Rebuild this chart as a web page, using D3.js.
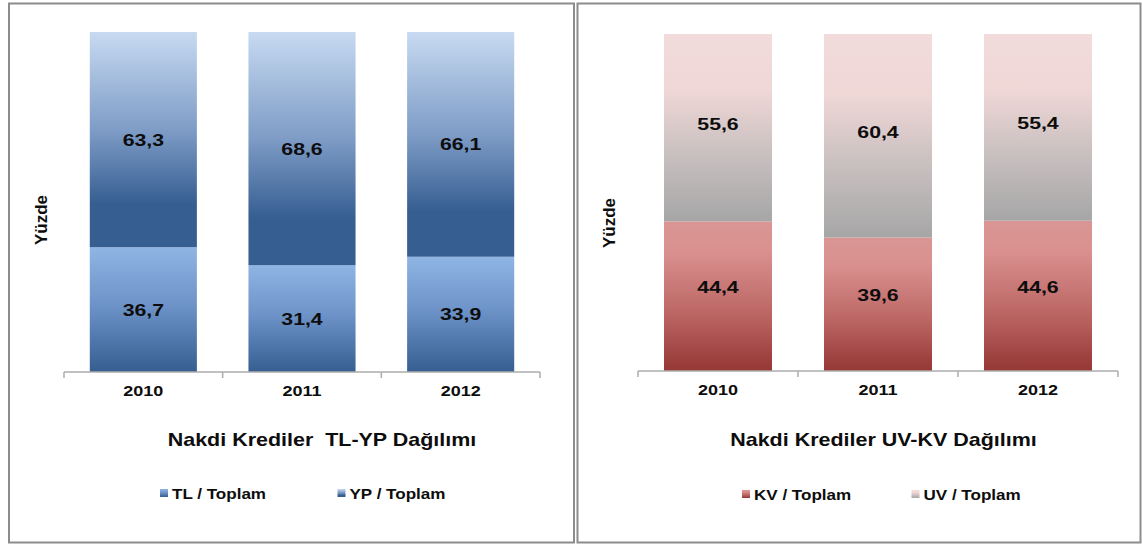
<!DOCTYPE html>
<html>
<head>
<meta charset="utf-8">
<script src="https://cdn.jsdelivr.net/npm/d3@7"></script>
<style>
  body { margin: 0; background: #fff; }
  svg { display: block; font-family: "Liberation Sans", Arial, sans-serif; font-weight: bold; }
</style>
</head>
<body>
<div id="chartArea"></div>
<script>
const width = 1142;
const height = 545;

// data
const years = ["2010", "2011", "2012"];
const tlShare = [36.7, 31.4, 33.9];
const ypShare = [63.3, 68.6, 66.1];
const kvShare = [44.4, 39.6, 44.6];
const uvShare = [55.6, 60.4, 55.4];
const leftTitle = "Nakdi Krediler  TL-YP Dağılımı";
const rightTitle = "Nakdi Krediler UV-KV Dağılımı";
const axisTitle = "Yüzde";

const svg = d3.select("#chartArea")
    .append("svg")
    .attr("width", width)
    .attr("height", height);

const defs = svg.append("defs");

function addGradient(id, stops) {
    const g = defs.append("linearGradient")
        .attr("id", id)
        .attr("x1", 0).attr("y1", 0)
        .attr("x2", 0).attr("y2", 1);
    stops.forEach(s => {
        g.append("stop").attr("offset", s[0]).attr("stop-color", s[1]);
    });
}

addGradient("gTL", [[0, "#8fb5e4"], [0.45, "#6e94c9"], [1, "#365e91"]]);
addGradient("gYP", [[0, "#c7daf1"], [0.45, "#7f9dc7"], [0.8, "#365e91"], [1, "#365e91"]]);
addGradient("gKV", [[0, "#d99694"], [0.2, "#d9918f"], [0.6, "#bd6866"], [1, "#953735"]]);
addGradient("gUV", [[0, "#f2dcdb"], [0.3, "#efd7d6"], [0.65, "#c8bfbf"], [1, "#a6a6a6"]]);

const fmt = v => d3.format(".1f")(v).replace(".", ",");

function stretched(sel, x, y, sx) {
    return sel.attr("transform", `translate(${x},${y}) scale(${sx},1)`);
}

function drawChart(cfg) {
    const p = cfg.panel;
    svg.append("rect")
        .attr("x", p[0]).attr("y", p[1])
        .attr("width", p[2]).attr("height", p[3])
        .attr("fill", "none")
        .attr("stroke", "#8c8c8c")
        .attr("stroke-width", 2);

    const x = d3.scaleBand()
        .domain(years)
        .range(cfg.xRange)
        .paddingInner(0.325)
        .paddingOuter(0.1625);

    const y = d3.scaleLinear()
        .domain([0, 100])
        .range(cfg.yRange);

    const rows = years.map((yr, i) => ({ year: yr, a: cfg.bottom[i], b: cfg.top[i] }));
    const stack = d3.stack().keys(["a", "b"])(rows);

    const g = svg.append("g");
    stack.forEach((layer, li) => {
        g.append("g")
            .selectAll("rect")
            .data(layer)
            .enter().append("rect")
            .attr("x", d => x(d.data.year))
            .attr("width", x.bandwidth())
            .attr("y", d => y(d[1]))
            .attr("height", d => y(d[0]) - y(d[1]))
            .attr("fill", `url(#${cfg.grads[li]})`);
    });

    // value labels
    stack.forEach((layer, li) => {
        g.append("g")
            .selectAll("text")
            .data(layer)
            .enter().append("text")
            .attr("text-anchor", "middle")
            .style("font-size", "17px")
            .attr("fill", "#0d0d0d")
            .each(function (d) {
                const cy = (y(d[0]) + y(d[1])) / 2 + cfg.nudge[li] + 6.1;
                stretched(d3.select(this), x(d.data.year) + x.bandwidth() / 2, cy, 1.25);
            })
            .text(d => fmt(d[1] - d[0]));
    });

    // axis line with ticks between categories
    const axisY = cfg.yRange[0];
    const ax = svg.append("g").attr("transform", `translate(0,${axisY})`);
    ax.append("line")
        .attr("x1", cfg.xRange[0]).attr("x2", cfg.xRange[1])
        .attr("stroke", "#adadad").attr("stroke-width", 1.5);
    d3.range(years.length + 1).forEach(i => {
        const tx = cfg.xRange[0] + i * x.step();
        ax.append("line")
            .attr("x1", tx).attr("x2", tx)
            .attr("y1", 0).attr("y2", 6)
            .attr("stroke", "#adadad").attr("stroke-width", 1.5);
    });

    const labels = svg.append("g")
        .attr("transform", `translate(0,${axisY})`)
        .call(d3.axisBottom(x).tickSize(0).tickPadding(13.5));
    labels.select(".domain").remove();
    labels.selectAll("text")
        .style("font-size", "15px")
        .style("font-family", "'Liberation Sans', Arial, sans-serif")
        .style("font-weight", "bold")
        .attr("fill", "#0d0d0d")
        .attr("transform", "scale(1.2,1)");

    // y axis title
    svg.append("text")
        .attr("text-anchor", "middle")
        .style("font-size", "17px")
        .attr("fill", "#0d0d0d")
        .attr("transform", `translate(${cfg.yTitle[0] + 6},${cfg.yTitle[1]}) rotate(-90)`)
        .text(axisTitle);

    // chart title
    stretched(svg.append("text"), cfg.title[0], cfg.title[1] + 6.7, 1.13)
        .attr("text-anchor", "middle")
        .style("font-size", "19px")
        .style("white-space", "pre")
        .attr("fill", "#0d0d0d")
        .text(cfg.titleText);

    // legend
    cfg.legend.forEach((item, i) => {
        svg.append("rect")
            .attr("x", item.x).attr("y", cfg.legendY - 4)
            .attr("width", 8).attr("height", 8)
            .attr("fill", `url(#${cfg.grads[i]})`);
        stretched(svg.append("text"), item.x + 12, cfg.legendY + 5.5, 1.1)
            .style("font-size", "15.5px")
            .attr("fill", "#0d0d0d")
            .text(item.name);
    });
}

drawChart({
    panel: [9, 3.5, 565, 539],
    xRange: [64, 540],
    yRange: [372, 32],
    bottom: tlShare,
    top: ypShare,
    grads: ["gTL", "gYP"],
    nudge: [0, 0],
    yTitle: [41, 220],
    title: [322, 439],
    titleText: leftTitle,
    legendY: 493,
    legend: [{ x: 160, name: "TL / Toplam" }, { x: 337.5, name: "YP / Toplam" }]
});

drawChart({
    panel: [577.5, 3.5, 563, 539],
    xRange: [638, 1118],
    yRange: [371, 34],
    bottom: kvShare,
    top: uvShare,
    grads: ["gKV", "gUV"],
    nudge: [-9, -4],
    yTitle: [609, 223],
    title: [883.5, 439],
    titleText: rightTitle,
    legendY: 494,
    legend: [{ x: 742, name: "KV / Toplam" }, { x: 911.5, name: "UV / Toplam" }]
});
</script>
</body>
</html>
